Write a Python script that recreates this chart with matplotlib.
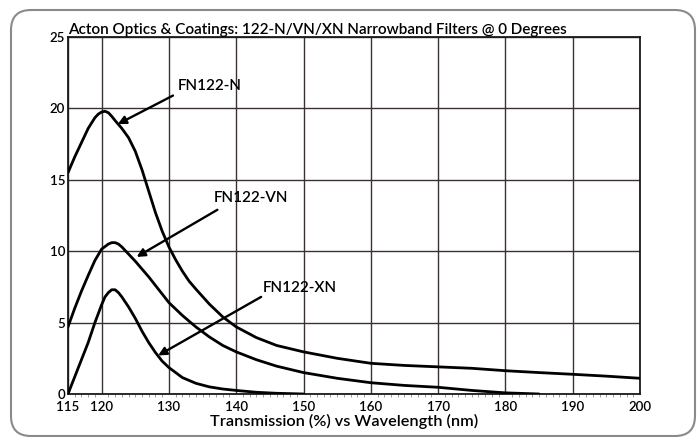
import numpy as np
import matplotlib
matplotlib.use("Agg")
import matplotlib.pyplot as plt
import matplotlib.patches as mpatches
import matplotlib.transforms as mtransforms

plt.rcParams['font.family'] = ['Lato', 'DejaVu Sans']

# wavelength (nm) / transmission (%)
wl_n = [115, 116, 117, 118, 119, 119.5, 120, 120.5, 121, 121.5, 122, 123, 124, 125, 126, 127,
        128, 129, 130, 131, 132, 133, 134, 136, 138, 140, 143, 146, 150, 155, 160, 165,
        170, 175, 180, 185, 190, 195, 200]
tr_n = [15.5, 16.6, 17.6, 18.6, 19.35, 19.6, 19.75, 19.8, 19.7, 19.45, 19.15, 18.6, 17.95, 17.0, 15.7, 14.2,
        12.7, 11.4, 10.3, 9.4, 8.6, 7.9, 7.35, 6.3, 5.4, 4.7, 3.95, 3.4, 2.95, 2.5, 2.15, 2.0,
        1.9, 1.8, 1.63, 1.5, 1.38, 1.25, 1.1]

wl_vn = [115, 116, 117, 118, 119, 120, 121, 121.5, 122, 122.5, 123, 124, 125, 126, 127, 128,
         130, 132, 134, 136, 138, 140, 143, 146, 150, 155, 160, 165, 170, 175, 180, 185]
tr_vn = [4.7, 6.0, 7.2, 8.3, 9.35, 10.15, 10.5, 10.6, 10.6, 10.5, 10.3, 9.8, 9.3, 8.75, 8.2, 7.6,
         6.4, 5.5, 4.7, 4.0, 3.4, 2.95, 2.4, 1.95, 1.5, 1.1, 0.79, 0.6, 0.47, 0.25, 0.08, 0.0]

wl_xn = [115, 116, 117, 118, 119, 120, 120.5, 121, 121.5, 122, 122.5, 123, 124, 125, 126, 127,
         128, 129, 130, 132, 134, 136, 138, 140, 143, 146, 150]
tr_xn = [0.0, 1.2, 2.4, 3.6, 5.0, 6.25, 6.8, 7.1, 7.3, 7.3, 7.1, 6.8, 6.1, 5.3, 4.4, 3.6,
         2.9, 2.3, 1.85, 1.15, 0.75, 0.5, 0.35, 0.25, 0.12, 0.05, 0.0]

# callout labels: (text, text position, arrow tail, arrow head)
labels = ['FN122-N', 'FN122-VN', 'FN122-XN']
label_xy = [(131.3, 21.6), (136.6, 13.7), (143.9, 7.4)]
arrow_tail = [(130.6, 20.9), (137.2, 12.9), (143.7, 6.8)]
arrow_head = [(122.4, 18.9), (125.2, 9.6), (128.4, 2.7)]

x_ticks = [115, 120, 130, 140, 150, 160, 170, 180, 190, 200]
y_ticks = [0, 5, 10, 15, 20, 25]

fig = plt.figure(figsize=(6.98, 4.37), dpi=100)
ax = fig.add_axes([0.0974, 0.0984, 0.8195, 0.8169])

# rounded frame around the whole figure
frame = mpatches.FancyBboxPatch((11, 1), 684, 426,
                                boxstyle="round,pad=0,rounding_size=20",
                                transform=mtransforms.IdentityTransform(),
                                facecolor='none', edgecolor='#8a8a8a', lw=1.5)
fig.patches.append(frame)

for xs, ys in [(wl_n, tr_n), (wl_vn, tr_vn), (wl_xn, tr_xn)]:
    ax.plot(xs, ys, color='black', lw=2.0, solid_capstyle='round',
            solid_joinstyle='round', zorder=3)

for txt, pos, tail, head in zip(labels, label_xy, arrow_tail, arrow_head):
    ax.annotate('', xy=head, xytext=tail,
                arrowprops=dict(arrowstyle='-|>', color='black', lw=1.7,
                                mutation_scale=12, shrinkA=0, shrinkB=0),
                zorder=4)
    ax.text(pos[0], pos[1], txt, fontsize=11, va='center', ha='left',
            fontweight='semibold', zorder=4)

ax.set_xlim(115, 200)
ax.set_ylim(0, 25)
ax.set_xticks(x_ticks)
ax.set_yticks(y_ticks)
ax.set_xticks(np.arange(115, 201, 1), minor=True)
ax.tick_params(axis='both', which='major', length=0, labelsize=9.5)
ax.tick_params(axis='x', which='major', pad=5)
ax.tick_params(axis='y', which='major', pad=2)
ax.tick_params(axis='x', which='minor', length=2, width=0.5, color='#777777')
for lab in ax.get_xticklabels() + ax.get_yticklabels():
    lab.set_fontweight('semibold')
ax.grid(True, which='major', color='#3a3232', lw=1.0)
for sp in ax.spines.values():
    sp.set_color('#1a1a1a')
    sp.set_linewidth(1.3)

ax.set_title('Acton Optics & Coatings: 122-N/VN/XN Narrowband Filters @ 0 Degrees',
             loc='left', fontsize=11, fontweight='semibold', pad=2)
ax.set_xlabel('Transmission (%) vs Wavelength (nm)', fontsize=11.7, fontweight='semibold',
              x=0.483, labelpad=1)

fig.savefig('out.png', dpi=100)
